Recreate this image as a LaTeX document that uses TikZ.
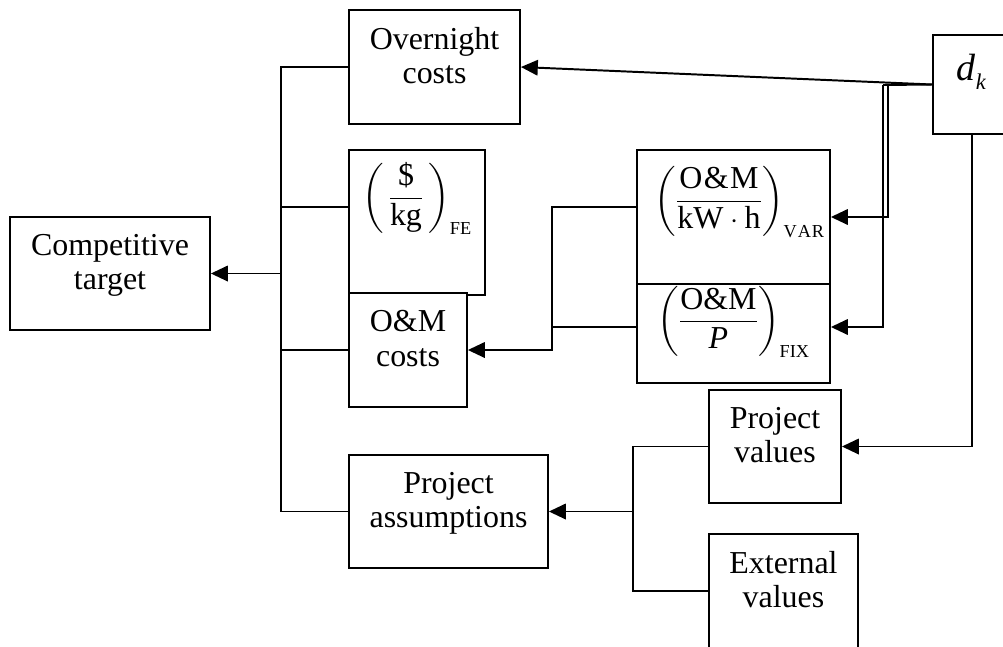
\documentclass[tikz,border=0pt]{standalone}
\usepackage{amsmath}
\usepackage{fontspec}
\setmainfont{Liberation Serif}
\usepackage{tikz}
\usetikzlibrary{arrows.meta,positioning,calc}

\newcommand{\subtag}[1]{\text{\fontsize{13}{13}\selectfont #1}}

\begin{document}
\begin{tikzpicture}[x=0.025cm, y=-0.025cm,
    font=\fontsize{22.7}{24.5}\selectfont,
    box/.style={rectangle, draw, fill=white, line width=1.3pt, inner sep=0pt},
    sz/.style 2 args={minimum width=#1*0.025cm, minimum height=#2*0.025cm},
    txt/.style={label={[anchor=north, align=center, inner sep=0pt, yshift=-0.45cm]north:{#1}}},
    link/.style={line width=1.4pt},
    feed/.style={line width=1.4pt, -{Triangle[length=12pt, width=11pt]}}
]
    \clip (0,0) rectangle (1003,646);

    % result
    \node[box, sz={200}{113}, txt={Competitive\\target}] (comp) at (110,273.5) {};

    % cost blocks
    \node[box, sz={171}{114}, txt={Overnight\\costs}] (ovn) at (434.5,67) {};
    \node[box, sz={136}{145}, label={[anchor=north, inner sep=0pt, yshift=-0.33cm]north:{$\left(\,\dfrac{\text{\$}\vphantom{I}}{\text{kg}}\,\right)_{\subtag{FE}}$}}] (fe) at (417,222.5) {};
    \node[box, sz={118}{114}, txt={O\&M\\costs}] (om) at (408,350) {};
    \node[box, sz={199}{113}, txt={Project\\assumptions}] (proj) at (448.5,511.5) {};

    % O&M parts
    \node[box, sz={193}{134}, label={[anchor=north, inner sep=0pt, xshift=0.15cm, yshift=-0.42cm]north:{$\left(\dfrac{\text{O\kern1pt\&\kern1pt M}}{\text{kW}\cdot\text{h}}\right)_{\subtag{V\kern0.6pt A\kern0.6pt R}}$}}] (var) at (733.5,217) {};
    \node[box, sz={193}{99}, label={[anchor=north, inner sep=0pt, yshift=-0.08cm]north:{$\left(\dfrac{\text{O\&M}}{\textit{P}}\right)_{\subtag{FIX}}$}}] (fix) at (733.5,333.5) {};

    % inputs
    \node[box, sz={77}{99}, label={[anchor=north, inner sep=0pt, yshift=-0.5cm]north:{\fontsize{27}{27}\selectfont\textit{d}\raisebox{-0.5ex}{\fontsize{16}{16}\selectfont\textit{k}}}}] (dk) at (971.5,84.5) {};
    \node[box, sz={132}{113}, txt={Project\\values}] (pval) at (775,446.5) {};
    \node[box, sz={149}{146}, txt={External\\values}] (ext) at (783.5,607) {};

    % bends
    \coordinate (busB) at (281,511.5);
    \coordinate (omT) at (552,207);
    \coordinate (omF) at (552,327);
    \coordinate (railA) at (888,85);
    \coordinate (railB) at (883,85);
    \coordinate (pj) at (633,591);

    % into competitive target
    \draw[link] (ovn.west) -| (busB) -- (proj.west);
    \draw[link] (fe.west |- omT) -- (busB |- omT);
    \draw[link] (om.west) -- (busB |- om.west);
    \draw[feed] (busB |- comp.east) -- (comp.east);

    % into O&M costs
    \draw[feed] (var.west |- omT) -| (om.east -| omT) -- (om.east);
    \draw[link] (fix.west |- omF) -- (omF);

    % from d_k
    \draw[feed] (dk.west) -- (ovn.east);
    \draw[link] (dk.west) -- (railB);
    \draw[feed] (railA) |- (var.east);
    \draw[feed] (railB) |- (fix.east |- omF);
    \draw[feed] (dk.south) |- (pval.east);

    % into project assumptions
    \draw[link] (pval.west) -| (pj) -- (ext.west |- pj);
    \draw[feed] (pj |- proj.east) -- (proj.east);
\end{tikzpicture}
\end{document}
